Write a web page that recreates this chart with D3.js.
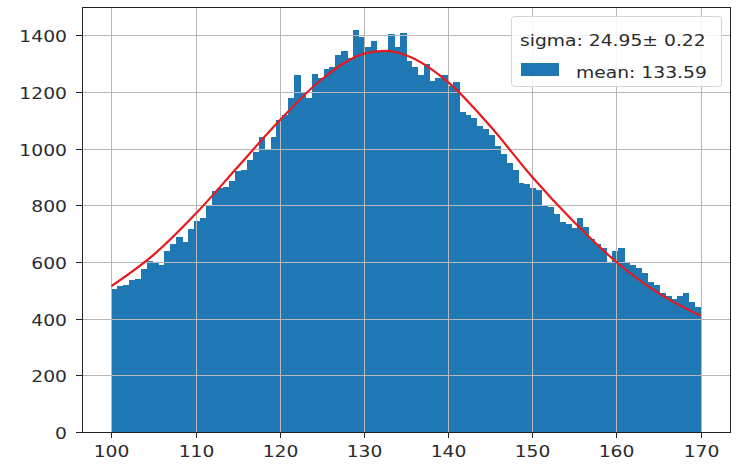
<!DOCTYPE html>
<html>
<head>
<meta charset="utf-8">
<script src="https://cdn.jsdelivr.net/npm/d3@7"></script>
<style>
  html, body { margin: 0; padding: 0; background: #fff; }
  text { font-family: "DejaVu Sans", sans-serif; fill: #2b2b2b; }
</style>
</head>
<body>
<svg id="svg" width="736" height="466"></svg>
<script>
// histogram counts, 100 bins of width 0.7 from 100 to 170
let binStart = 100;
let binWidth = 0.7;
let counts = [
    505, 515, 520, 535, 540, 575, 605, 595, 590, 640,
    665, 690, 670, 715, 745, 755, 800, 850, 860, 865,
    885, 920, 925, 960, 990, 1040, 1000, 1040, 1100, 1120,
    1180, 1260, 1200, 1180, 1265, 1250, 1280, 1290, 1330, 1345,
    1320, 1420, 1395, 1360, 1380, 1345, 1340, 1405, 1360, 1410,
    1310, 1290, 1260, 1300, 1240, 1250, 1260, 1220, 1235, 1130,
    1120, 1110, 1080, 1070, 1050, 1010, 980, 950, 925, 880,
    875, 860, 855, 800, 795, 770, 740, 735, 720, 755,
    725, 680, 665, 650, 600, 640, 650, 595, 590, 580,
    560, 530, 520, 490, 480, 470, 480, 490, 460, 440
];

// fitted curve
let fitX = [100, 105, 110, 115, 120, 125, 130, 132.5, 135, 140, 145, 150, 155, 160, 165, 170];
let fitY = [515, 625, 770, 935, 1100, 1245, 1335, 1345, 1330, 1235, 1080, 900, 740, 600, 490, 410];

// ticks
let xTicks = [100, 110, 120, 130, 140, 150, 160, 170];
let yTicks = [0, 200, 400, 600, 800, 1000, 1200, 1400];

// legend texts
let legendTitle = 'sigma: 24.95\u00b1 0.22';
let legendLabel = 'mean: 133.59';

let svg = d3.select('#svg');

let plot = { l: 82, r: 730, t: 7, b: 432 };
let stretch = 1.17; // glyphs in the picture are a bit wide

let xScale = d3.scaleLinear()
    .domain([96.5, 173.5])
    .range([plot.l, plot.r]);

let yScale = d3.scaleLinear()
    .domain([0, 1500])
    .range([plot.b, plot.t]);

// helper for stretched text
let addText = (parent, x, y, str, anchor) => {
    parent.append('g')
        .attr('transform', 'translate(' + [x, y] + ') scale(' + stretch + ',1)')
        .append('text')
        .attr('text-anchor', anchor)
        .attr('font-size', '16px')
        .text(str);
};

// bars
svg.append('g')
    .attr('shape-rendering', 'crispEdges')
    .selectAll('rect')
    .data(counts)
    .enter()
    .append('rect')
    .attr('x', (d, i) => xScale(binStart + i * binWidth))
    .attr('width', (d, i) => xScale(binStart + (i + 1) * binWidth) - xScale(binStart + i * binWidth) + 0.6)
    .attr('y', (d) => yScale(d))
    .attr('height', (d) => yScale(0) - yScale(d))
    .attr('fill', '#1f77b4');

// grid, drawn above the bars
let grid = svg.append('g')
    .attr('stroke', '#b8b8b8')
    .attr('stroke-width', 1);

xTicks.forEach((t) => {
    grid.append('line')
        .attr('x1', Math.round(xScale(t)) + 0.5).attr('x2', Math.round(xScale(t)) + 0.5)
        .attr('y1', plot.t).attr('y2', plot.b);
});
yTicks.forEach((t) => {
    grid.append('line')
        .attr('x1', plot.l).attr('x2', plot.r)
        .attr('y1', Math.round(yScale(t)) + 0.5).attr('y2', Math.round(yScale(t)) + 0.5);
});

// fit line
let line = d3.line()
    .x((d, i) => xScale(fitX[i]))
    .y((d) => yScale(d))
    .curve(d3.curveMonotoneX);

svg.append('path')
    .datum(fitY)
    .attr('d', line)
    .attr('fill', 'none')
    .attr('stroke', '#e8191c')
    .attr('stroke-width', 2.2);

// frame
svg.append('rect')
    .attr('x', plot.l + 0.5)
    .attr('y', plot.t + 0.5)
    .attr('width', plot.r - plot.l)
    .attr('height', plot.b - plot.t)
    .attr('fill', 'none')
    .attr('stroke', '#222')
    .attr('stroke-width', 1);

// x ticks
let xAxisG = svg.append('g');
xTicks.forEach((t) => {
    let px = Math.round(xScale(t)) + 0.5;
    xAxisG.append('line')
        .attr('x1', px).attr('x2', px)
        .attr('y1', plot.b).attr('y2', plot.b + 6)
        .attr('stroke', '#222');
    addText(xAxisG, px, plot.b + 25, t, 'middle');
});

// y ticks
let yAxisG = svg.append('g');
yTicks.forEach((t) => {
    let py = Math.round(yScale(t)) + 0.5;
    yAxisG.append('line')
        .attr('x1', plot.l - 6).attr('x2', plot.l)
        .attr('y1', py).attr('y2', py)
        .attr('stroke', '#222');
    addText(yAxisG, plot.l - 15, py + 6, t, 'end');
});

// legend
let legend = svg.append('g');
legend.append('rect')
    .attr('x', 511.5)
    .attr('y', 16.5)
    .attr('width', 210)
    .attr('height', 70)
    .attr('rx', 3)
    .attr('fill', 'rgba(255,255,255,0.85)')
    .attr('stroke', '#d4d4d4');

addText(legend, 520, 46, legendTitle, 'start');

legend.append('rect')
    .attr('x', 521)
    .attr('y', 63)
    .attr('width', 38)
    .attr('height', 13)
    .attr('fill', '#1f77b4');

addText(legend, 576, 78, legendLabel, 'start');
</script>
</body>
</html>
